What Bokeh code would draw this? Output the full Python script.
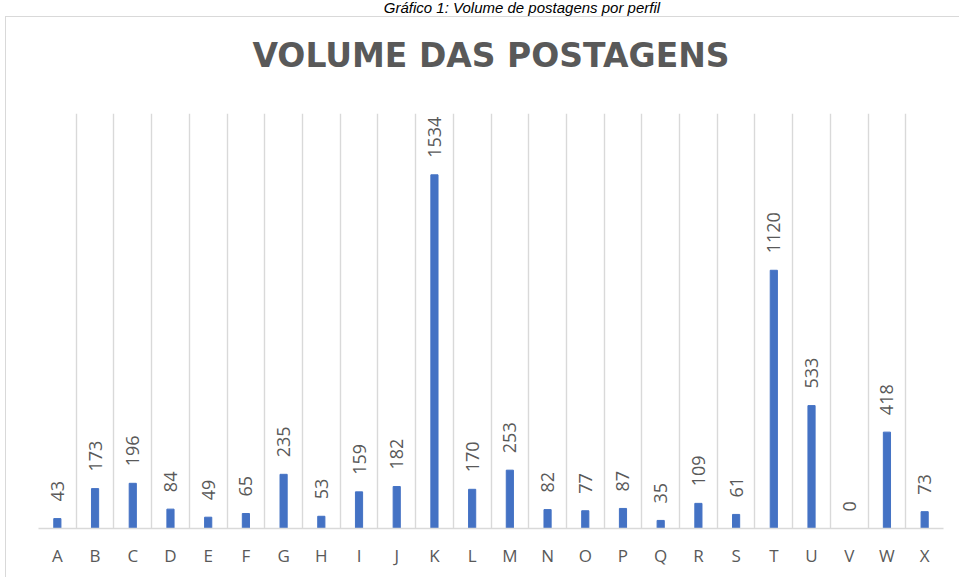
import math
from bokeh.plotting import figure
from bokeh.layouts import column
from bokeh.models import ColumnDataSource, LabelSet, FixedTicker, Range1d, Div, LinearAxis
from bokeh.embed import file_html
from bokeh.resources import INLINE
from bokeh.core.properties import value

# ---- data ----
categories = list("ABCDEFGHIJKLMNOPQRSTUVWX")
volumes = [43, 173, 196, 84, 49, 65, 235, 53, 159, 182, 1534, 170, 253,
           82, 77, 87, 35, 109, 61, 1120, 533, 0, 418, 73]
title_text = "VOLUME DAS POSTAGENS"
caption_text = "Gráfico 1: Volume de postagens por perfil"
y_max = 1800

xs = list(range(len(categories)))
src = ColumnDataSource(dict(x=xs, y=volumes, label=[str(v) for v in volumes]))

GRAY = "#d9d9d9"
TEXT = "#595959"

caption = Div(text=caption_text, width=876, height=16, margin=(0, 0, 0, 84),
              styles={"font-family": "Liberation Sans", "font-style": "italic",
                      "font-size": "15px", "line-height": "16px", "color": "black",
                      "text-align": "center"})

p = figure(width=954, height=561, output_backend="svg", toolbar_location=None,
           x_range=Range1d(-0.5, len(categories) - 0.5), y_range=Range1d(0, y_max),
           min_border_left=32, min_border_right=17, min_border_top=96, min_border_bottom=50,
           margin=(0, 0, 0, 5),
           styles={"border-top": "1px solid #d9d9d9", "border-left": "1px solid #d9d9d9"})

p.outline_line_color = None
p.background_fill_color = "white"
p.border_fill_color = "white"

# category axis (below)
ax = p.below[0]
ax.ticker = FixedTicker(ticks=xs)
ax.major_label_overrides = {i: c for i, c in zip(xs, categories)}
ax.axis_line_color = GRAY
ax.axis_line_width = 1.5
ax.major_tick_line_color = None
ax.minor_tick_line_color = None
ax.major_tick_in = 0
ax.major_tick_out = 0
ax.major_label_standoff = 15
ax.major_label_text_font = "Open Sans"
ax.major_label_text_font_size = "17px"
ax.major_label_text_color = TEXT

# chart title drawn as the label of a bare axis above the plot area
title_axis = LinearAxis(ticker=FixedTicker(ticks=[]), axis_label=title_text,
                        axis_line_color=None, major_tick_line_color=None,
                        minor_tick_line_color=None, major_tick_in=0, major_tick_out=0,
                        major_label_standoff=0, major_label_text_font_size="0px",
                        axis_label_standoff=39, axis_label_text_font="DejaVu Sans",
                        axis_label_text_font_style="bold", axis_label_text_font_size="33px",
                        axis_label_text_color=TEXT)
p.add_layout(title_axis, "above")

# grid between categories
p.xgrid.ticker = FixedTicker(ticks=[i - 0.5 for i in range(len(categories) + 1)])
p.xgrid.grid_line_color = GRAY
p.xgrid.grid_line_width = 1.4
p.ygrid.grid_line_color = None
p.yaxis.visible = False

p.vbar(x="x", top="y", width=0.19, source=src, color="#4472C4")

labels = LabelSet(x="x", y="y", text="label", source=src, angle=math.pi / 2,
                  text_align="left", text_baseline="middle", y_offset=17,
                  text_font=value("Open Sans"), text_font_size="18px", text_color=TEXT)
p.add_layout(labels)

layout = column(caption, p, spacing=0, margin=0)

open("out.html", "w").write(file_html(layout, INLINE))
